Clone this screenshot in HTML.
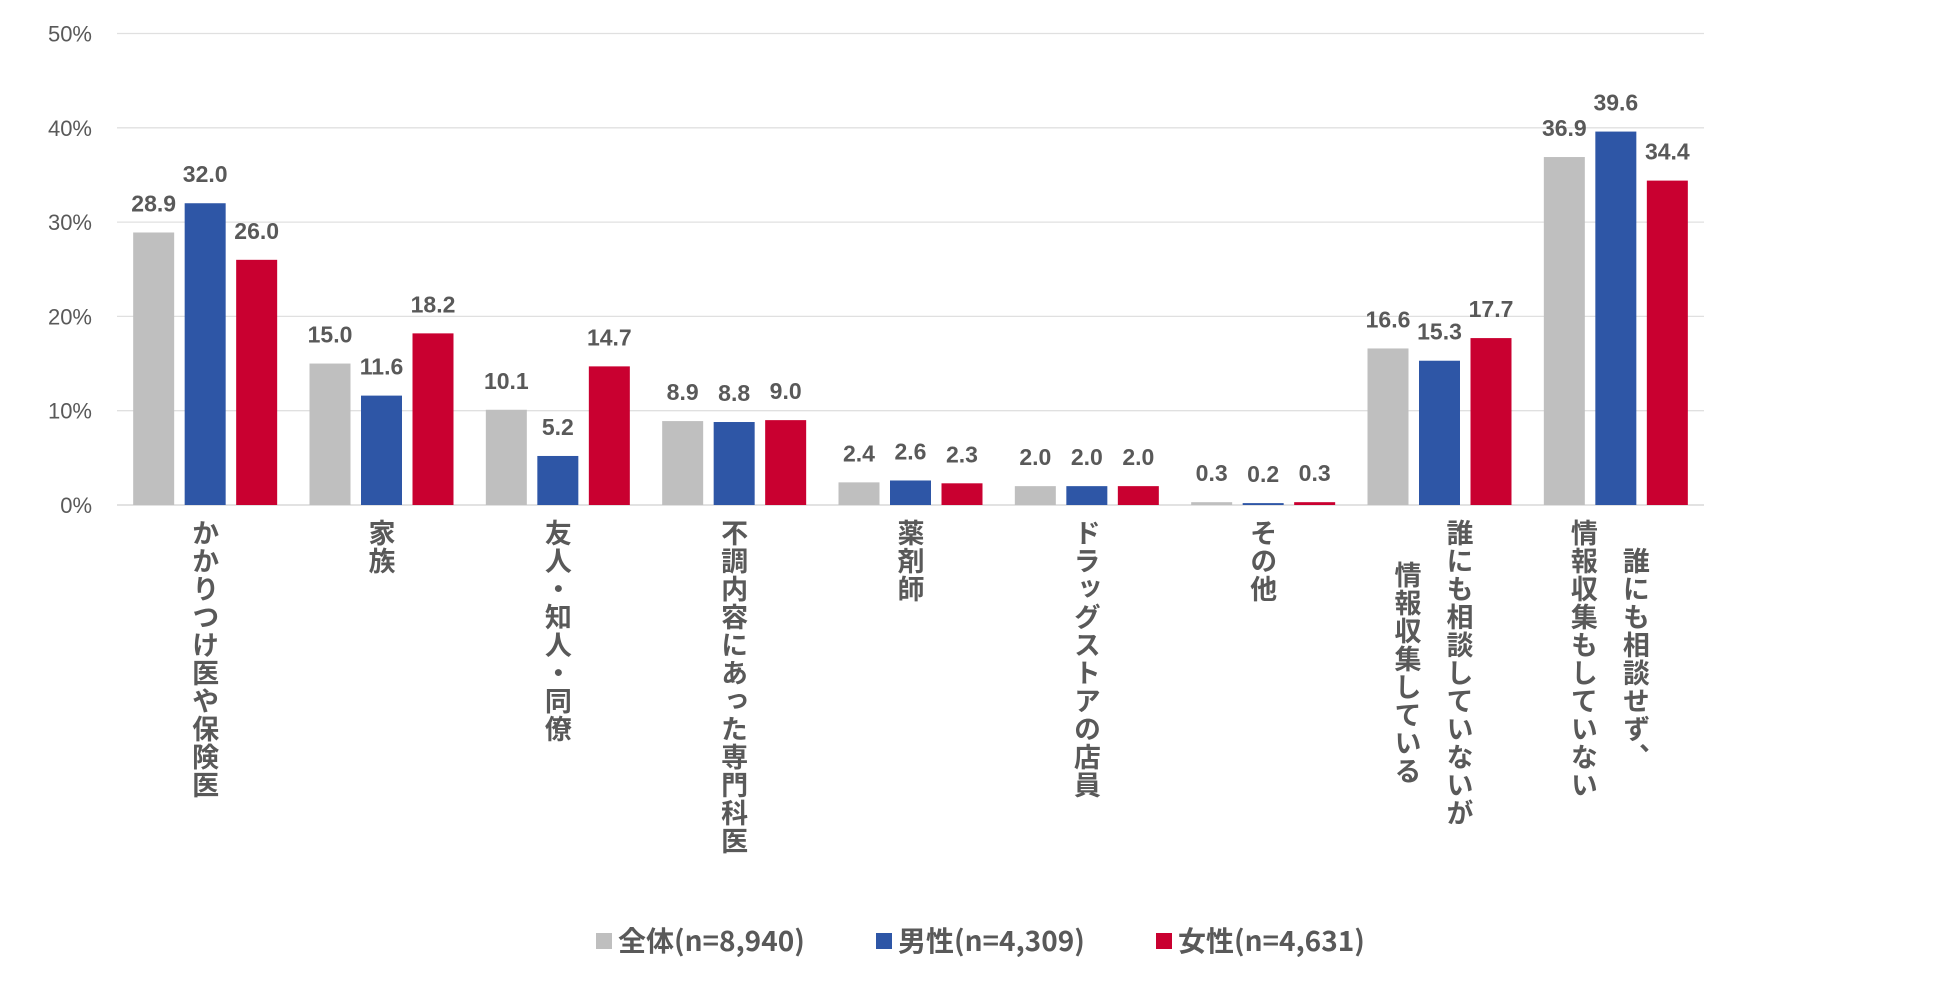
<!DOCTYPE html>
<html><head><meta charset="utf-8">
<style>
body{margin:0;background:#fff;width:1950px;height:982px;overflow:hidden;font-family:"Liberation Sans","Noto Sans CJK JP",sans-serif;}
svg{position:absolute;left:0;top:0}
.cat{position:absolute;top:519px;writing-mode:vertical-rl;font-size:27px;font-weight:bold;color:#595959;line-height:52px;text-align:center;letter-spacing:1px;font-family:"Noto Sans CJK JP",sans-serif;}
.cat.single{text-align:start}
.legend{position:absolute;top:920px;font-size:28px;font-weight:bold;color:#595959;font-family:"Noto Sans CJK JP",sans-serif;}
.legend span.sw{display:inline-block;width:16px;height:16px;margin-right:6px;vertical-align:middle;position:relative;top:-2px}
</style></head>
<body>
<svg id="chart" width="1950" height="982"></svg>
<div id="cats"></div>
<div class="legend" style="left:596px"><span class="sw" style="background:#bfbfbf"></span>全体(n=8,940)</div>
<div class="legend" style="left:876px"><span class="sw" style="background:#2e56a6"></span>男性(n=4,309)</div>
<div class="legend" style="left:1156px"><span class="sw" style="background:#c90030"></span>女性(n=4,631)</div>
<script>
const categories=[["かかりつけ医や保険医"],["家族"],["友人・知人・同僚"],["不調内容にあった専門科医"],["薬剤師"],["ドラッグストアの店員"],["その他"],["誰にも相談していないが","情報収集している"],["誰にも相談せず、","情報収集もしていない"]];
const allValues=[28.9,15.0,10.1,8.9,2.4,2.0,0.3,16.6,36.9];
const maleValues=[32.0,11.6,5.2,8.8,2.6,2.0,0.2,15.3,39.6];
const femaleValues=[26.0,18.2,14.7,9.0,2.3,2.0,0.3,17.7,34.4];
const yTicks=[0,10,20,30,40,50];

const NS="http://www.w3.org/2000/svg";
const svg=document.getElementById('chart');
const left=117,right=1704,y0=505,y50=33.5;
const bw=(right-left)/categories.length;
const y=v=>y0-(v/50)*(y0-y50);
const xc=i=>left+bw*(i+0.5);
function mk(t,a){const e=document.createElementNS(NS,t);for(const k in a)e.setAttribute(k,a[k]);svg.appendChild(e);return e;}
yTicks.forEach(t=>{
  const g=mk('line',{x1:left,x2:right,y1:y(t),y2:y(t),stroke:t===0?'#d0d0d0':'#e0e0e0','stroke-width':1.3});
  
  
  const l=mk('text',{x:92,y:y(t)+8,'text-anchor':'end','font-size':22,fill:'#595959'});
  l.textContent=t+'%';
  
  
});
const series=[[allValues,'#bfbfbf','all'],[maleValues,'#2e56a6','male'],[femaleValues,'#c90030','female']];
series.forEach((s,si)=>{
  s[0].forEach((v,i)=>{
    const cx=xc(i)+(si-1)*51.5;
    const r=mk('rect',{x:cx-20.5,y:y(v),width:41,height:y0-y(v),fill:s[1]});
    
    
    const t=mk('text',{x:cx,y:y(v)-21,'text-anchor':'middle','font-size':23,'font-weight':'bold',fill:'#595959'});
    t.textContent=v.toFixed(1);
    
    
  });
});
const cd=document.getElementById('cats');
categories.forEach((c,i)=>{
  const d=document.createElement('div');
  d.className='cat'+(c.length===1?' single':'');
  d.innerHTML=c.join('<br>');
  
  
  cd.appendChild(d);
  d.style.left=(xc(i)-d.offsetWidth/2-(c.length>1?6:0))+'px';
});
</script>
</body></html>
